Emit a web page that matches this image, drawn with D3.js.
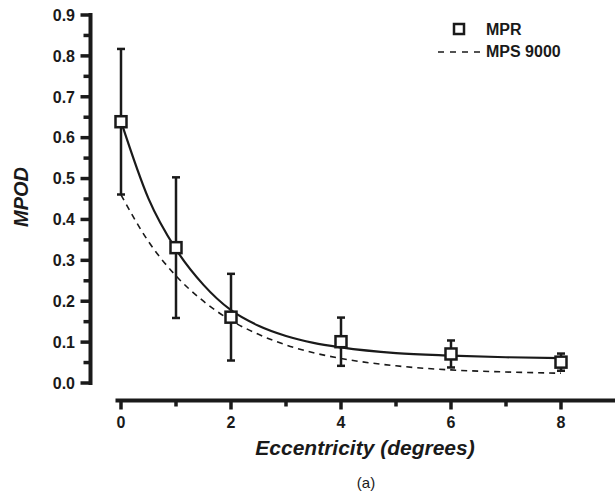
<!DOCTYPE html>
<html>
<head>
  <meta charset="utf-8">
  <title>MPOD vs eccentricity</title>
  <script src="https://d3js.org/d3.v7.min.js"></script>
  <style>
    body { margin: 0; background: #fff; }
    svg text { font-family: Arial, "Liberation Sans", sans-serif; fill: #1a1a1a; }
  </style>
</head>
<body>
  <div id="chart"></div>

  <script>
    "use strict"

    // measured points (MPR) with error bars
    var eccentricity = [0, 1, 2, 4, 6, 8];
    var mprMean = [0.639, 0.331, 0.161, 0.101, 0.071, 0.051];
    var mprErr = [0.178, 0.172, 0.106, 0.059, 0.033, 0.021];

    // fitted curves
    var fitX = [0, 0.5, 1, 1.5, 2, 2.5, 3, 3.5, 4, 5, 6, 7, 8];
    var mprFit = [0.64, 0.451, 0.327, 0.240, 0.178, 0.140, 0.115, 0.098, 0.087, 0.073, 0.067, 0.063, 0.061];
    var mpsFit = [0.46, 0.346, 0.262, 0.200, 0.153, 0.119, 0.093, 0.074, 0.060, 0.042, 0.032, 0.027, 0.024];

    var xMajor = [0, 2, 4, 6, 8];
    var xMinor = [1, 3, 5, 7];
    var yMajor = [0, 0.1, 0.2, 0.3, 0.4, 0.5, 0.6, 0.7, 0.8, 0.9];
    var yMinor = [0.05, 0.15, 0.25, 0.35, 0.45, 0.55, 0.65, 0.75, 0.85];

    var seriesNames = ["MPR", "MPS 9000"];

    var largura = 615, altura = 495;
    var ink = "#1a1a1a";

    var svg = d3.select("#chart").append("svg")
      .attr("width", largura)
      .attr("height", altura);

    var x = d3.scaleLinear().domain([-0.1, 9]).range([115.5, 616]);
    var y = d3.scaleLinear().domain([0, 0.9]).range([383, 15]);

    var yAxisX = 90.5, xAxisY = 400.5;

    // y axis
    svg.append("line")
      .attr("x1", yAxisX).attr("x2", yAxisX)
      .attr("y1", y(0.9) - 2).attr("y2", y(0) + 2)
      .attr("stroke", ink)
      .attr("stroke-width", 4);
    svg.selectAll("line.ymaj")
      .data(yMajor).enter().append("line")
      .attr("class", "ymaj")
      .attr("x1", yAxisX - 10).attr("x2", yAxisX)
      .attr("y1", d => y(d)).attr("y2", d => y(d))
      .attr("stroke", ink)
      .attr("stroke-width", 3.5);
    svg.selectAll("line.ymin")
      .data(yMinor).enter().append("line")
      .attr("class", "ymin")
      .attr("x1", yAxisX - 7).attr("x2", yAxisX)
      .attr("y1", d => y(d)).attr("y2", d => y(d))
      .attr("stroke", ink)
      .attr("stroke-width", 3.5);

    svg.selectAll("text.ylab")
      .data(yMajor).enter().append("text")
      .attr("class", "ylab")
      .attr("x", 75)
      .attr("y", d => y(d))
      .attr("dy", "0.36em")
      .attr("text-anchor", "end")
      .attr("font-size", 16)
      .attr("font-weight", "bold")
      .text(d3.format(".1f"));

    // x axis, offset below the plot
    svg.append("line")
      .attr("x1", x(-0.1)).attr("x2", x(9))
      .attr("y1", xAxisY).attr("y2", xAxisY)
      .attr("stroke", ink)
      .attr("stroke-width", 4);
    svg.selectAll("line.xmaj")
      .data(xMajor).enter().append("line")
      .attr("class", "xmaj")
      .attr("x1", d => x(d)).attr("x2", d => x(d))
      .attr("y1", xAxisY).attr("y2", xAxisY + 9)
      .attr("stroke", ink)
      .attr("stroke-width", 3.5);
    svg.selectAll("line.xmin")
      .data(xMinor).enter().append("line")
      .attr("class", "xmin")
      .attr("x1", d => x(d)).attr("x2", d => x(d))
      .attr("y1", xAxisY).attr("y2", xAxisY + 6)
      .attr("stroke", ink)
      .attr("stroke-width", 3.5);

    svg.selectAll("text.xlab")
      .data(xMajor).enter().append("text")
      .attr("class", "xlab")
      .attr("x", d => x(d))
      .attr("y", 428)
      .attr("text-anchor", "middle")
      .attr("font-size", 16)
      .attr("font-weight", "bold")
      .text(d3.format("d"));

    // axis titles
    svg.append("text")
      .attr("transform", "translate(28,197) rotate(-90)")
      .attr("text-anchor", "middle")
      .attr("font-size", 20)
      .attr("font-weight", "bold")
      .attr("font-style", "italic")
      .text("MPOD");

    svg.append("text")
      .attr("x", 365)
      .attr("y", 455)
      .attr("text-anchor", "middle")
      .attr("font-size", 21)
      .attr("font-weight", "bold")
      .attr("font-style", "italic")
      .text("Eccentricity (degrees)");

    svg.append("text")
      .attr("x", 366)
      .attr("y", 488)
      .attr("text-anchor", "middle")
      .attr("font-size", 15)
      .text("(a)");

    // curves
    var linha = d3.line()
      .x(d => x(d[0]))
      .y(d => y(d[1]))
      .curve(d3.curveMonotoneX);

    svg.append("path")
      .datum(fitX.map((v, i) => [v, mpsFit[i]]))
      .attr("d", linha)
      .attr("fill", "none")
      .attr("stroke", ink)
      .attr("stroke-width", 1.6)
      .attr("stroke-dasharray", "6,5");

    svg.append("path")
      .datum(fitX.map((v, i) => [v, mprFit[i]]))
      .attr("d", linha)
      .attr("fill", "none")
      .attr("stroke", ink)
      .attr("stroke-width", 2.2);

    // error bars + squares
    var pontos = eccentricity.map((v, i) => ({ x: v, m: mprMean[i], e: mprErr[i] }));
    var grupo = svg.selectAll("g.ponto")
      .data(pontos)
      .enter()
      .append("g")
      .attr("class", "ponto");

    grupo.append("line")
      .attr("x1", d => x(d.x)).attr("x2", d => x(d.x))
      .attr("y1", d => y(d.m + d.e)).attr("y2", d => y(d.m - d.e))
      .attr("stroke", ink).attr("stroke-width", 2.5);

    [1, -1].forEach(function(s) {
      grupo.append("line")
        .attr("x1", d => x(d.x) - 4).attr("x2", d => x(d.x) + 4)
        .attr("y1", d => y(d.m + s * d.e)).attr("y2", d => y(d.m + s * d.e))
        .attr("stroke", ink).attr("stroke-width", 2.5);
    });

    grupo.append("rect")
      .attr("x", d => x(d.x) - 5.5)
      .attr("y", d => y(d.m) - 5.5)
      .attr("width", 11)
      .attr("height", 11)
      .attr("fill", "#fff")
      .attr("stroke", ink)
      .attr("stroke-width", 2.5);

    // legend
    var legenda = svg.append("g");
    legenda.append("rect")
      .attr("x", 454).attr("y", 24)
      .attr("width", 10).attr("height", 10)
      .attr("fill", "#fff").attr("stroke", ink).attr("stroke-width", 2.5);
    legenda.append("line")
      .attr("x1", 438).attr("x2", 481)
      .attr("y1", 52).attr("y2", 52)
      .attr("stroke", ink).attr("stroke-width", 1.6)
      .attr("stroke-dasharray", "6,6");
    legenda.selectAll("text.leg")
      .data(seriesNames)
      .enter()
      .append("text")
      .attr("class", "leg")
      .attr("x", 486)
      .attr("y", (d, i) => 35 + i * 22)
      .attr("font-size", 16)
      .attr("font-weight", "bold")
      .text(d => d);
  </script>
</body>
</html>
